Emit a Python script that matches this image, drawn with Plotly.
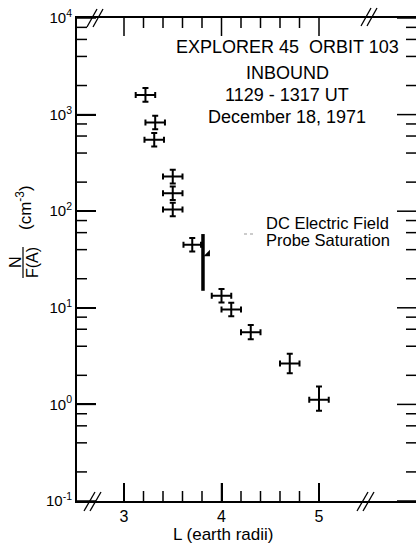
import plotly.graph_objects as go

# ---- data ----
L_vals = [3.22, 3.32, 3.31, 3.50, 3.50, 3.50, 3.70, 4.00, 4.10, 4.30, 4.70, 5.00]
N_vals = [1600, 830, 550, 228, 153, 104, 45, 13.3, 9.6, 5.6, 2.65, 1.12]
L_err = [0.10, 0.10, 0.10, 0.10, 0.10, 0.10, 0.09, 0.10, 0.10, 0.10, 0.10, 0.10]
# vertical error half-widths in decades
N_err_up_dec = [0.07, 0.07, 0.07, 0.07, 0.07, 0.07, 0.07, 0.07, 0.07, 0.075, 0.10, 0.135]
N_err_dn_dec = [0.07, 0.07, 0.07, 0.07, 0.07, 0.07, 0.07, 0.07, 0.07, 0.075, 0.10, 0.115]

sat_L = [3.81, 3.81]
sat_N = [58, 15]
flag_L = [3.86]
flag_N = [36]

x_major = [3, 4, 5]
x_labels = ["3", "4", "5"]
x_minor = [3.2, 3.4, 3.6, 3.8, 4.2, 4.4, 4.6, 4.8]
y_major = [0.1, 1, 10, 100, 1000, 10000]
y_labels = ["10<sup>-1</sup>", "10<sup>0</sup>", "10<sup>1</sup>", "10<sup>2</sup>", "10<sup>3</sup>", "10<sup>4</sup>"]
y_minor = [m * d for d in [0.1, 1, 10, 100, 1000] for m in [2, 4, 6, 8]]

err_up = [n * (10 ** u - 1) for n, u in zip(N_vals, N_err_up_dec)]
err_dn = [n * (1 - 10 ** (-d)) for n, d in zip(N_vals, N_err_dn_dec)]

FONT = "Liberation Sans"

W, H = 416, 546
ml, mr, mt, mb = 77, 0, 18, 45
pw, ph = W - ml - mr, H - mt - mb
XR = [3 - 47 / 97.5, 3 + (W - ml - 47) / 97.5]
YR = [-1, 4]
Lpp = (XR[1] - XR[0]) / pw   # L units per pixel
Dpp = (YR[1] - YR[0]) / ph   # decades per pixel

fig = go.Figure()
fig.add_trace(go.Scatter(
    x=L_vals, y=N_vals, mode="markers",
    marker=dict(size=1, color="black"),
    error_x=dict(type="data", array=L_err, color="black", thickness=2, width=3),
    error_y=dict(type="data", array=err_up, arrayminus=err_dn, symmetric=False,
                 color="black", thickness=2, width=3),
    showlegend=False, hoverinfo="skip"))
fig.add_trace(go.Scatter(x=sat_L, y=sat_N, mode="lines",
                         line=dict(color="black", width=3.5), showlegend=False))
fig.add_trace(go.Scatter(x=flag_L, y=flag_N, mode="markers",
                         marker=dict(symbol="triangle-se", size=7, color="black"),
                         showlegend=False))

# inward tick marks on all four sides (built from the tick value lists)
tx, ty = [], []
for vals, ln in [(y_major, 19), (y_minor, 10)]:
    for v in vals:
        tx += [XR[0], XR[0] + ln * Lpp, None, XR[1], XR[1] - ln * Lpp, None]
        ty += [v, v, None, v, v, None]
for vals, ln in [(x_major, 18), (x_minor, 10)]:
    for v in vals:
        tx += [v, v, None, v, v, None]
        ty += [10 ** YR[0], 10 ** (YR[0] + ln * Dpp), None,
               10 ** YR[1], 10 ** (YR[1] - ln * Dpp), None]
fig.add_trace(go.Scatter(x=tx, y=ty, mode="lines", line=dict(color="black", width=1.5),
                         connectgaps=False, showlegend=False, hoverinfo="skip"))


def px(x):
    return (x - ml) / pw


def py(y):
    return (H - mb - y) / ph


shapes = []
for (x0, y0, x1, y1) in [
    (84, 511, 95, 492), (90, 511, 101, 492),      # bottom-left break
    (357, 511, 368, 492), (363, 511, 374, 492),   # bottom-right break
    (87, 27, 97, 9), (93, 27, 103, 9),            # top-left break
    (361, 26, 371, 8), (367, 26, 377, 8),         # top-right break
]:
    shapes.append(dict(type="line", xref="paper", yref="paper",
                       x0=px(x0), y0=py(y0), x1=px(x1), y1=py(y1),
                       line=dict(color="black", width=1.3)))
# fraction bar of y title
shapes.append(dict(type="line", xref="paper", yref="paper",
                   x0=px(23), y0=py(247), x1=px(23), y1=py(278),
                   line=dict(color="black", width=1.2)))
# faint leader dashes
shapes.append(dict(type="line", xref="paper", yref="paper",
                   x0=px(244), y0=py(234), x1=px(254), y1=py(234),
                   line=dict(color="#999999", width=1, dash="dot")))
fig.update_layout(shapes=shapes)

ann = []
for txt, y in [("EXPLORER 45  ORBIT 103", 47), ("INBOUND", 73),
               ("1129 - 1317 UT", 95), ("December 18, 1971", 117)]:
    ann.append(dict(text=txt, xref="paper", yref="paper", x=px(287), y=py(y),
                    xanchor="center", yanchor="middle", showarrow=False,
                    font=dict(size=18, color="black", family=FONT)))
for txt, y in [("DC Electric Field", 223), ("Probe Saturation", 240)]:
    ann.append(dict(text=txt, xref="paper", yref="paper", x=px(264), y=py(y),
                    xanchor="left", yanchor="middle", showarrow=False,
                    font=dict(size=16.5, color="black", family=FONT)))
ann.append(dict(text="N", xref="paper", yref="paper", x=px(15), y=py(262),
                textangle=-90, showarrow=False, xanchor="center", yanchor="middle",
                font=dict(size=16, color="black", family=FONT)))
ann.append(dict(text="F(A)", xref="paper", yref="paper", x=px(32), y=py(262),
                textangle=-90, showarrow=False, xanchor="center", yanchor="middle",
                font=dict(size=16, color="black", family=FONT)))
ann.append(dict(text="(cm<sup>-3</sup>)", xref="paper", yref="paper", x=px(24), y=py(207),
                textangle=-90, showarrow=False, xanchor="center", yanchor="middle",
                font=dict(size=17, color="black", family=FONT)))
ann.append(dict(text="L (earth radii)", xref="paper", yref="paper", x=px(223), y=py(534),
                showarrow=False, xanchor="center", yanchor="middle",
                font=dict(size=17, color="black", family=FONT)))
fig.update_layout(annotations=ann)

fig.update_layout(
    xaxis=dict(range=XR, tickmode="array", tickvals=x_major, ticktext=x_labels,
               ticks="inside", ticklen=18, tickwidth=2, tickcolor="black",
               showgrid=False, zeroline=False,
               showline=True, linecolor="black", linewidth=2, mirror=True,
               tickfont=dict(size=16, color="black", family=FONT)),
    yaxis=dict(type="log", range=YR, tickmode="array", tickvals=y_major, ticktext=y_labels,
               ticks="inside", ticklen=19, tickwidth=2, tickcolor="black",
               showgrid=False, zeroline=False,
               showline=True, linecolor="black", linewidth=2, mirror=False,
               tickfont=dict(size=15, color="black", family=FONT)),
    width=W, height=H,
    margin=dict(l=ml, r=mr, t=mt, b=mb),
    paper_bgcolor="white", plot_bgcolor="white",
    font=dict(family=FONT, color="black"),
)
fig.write_html("out.html")
